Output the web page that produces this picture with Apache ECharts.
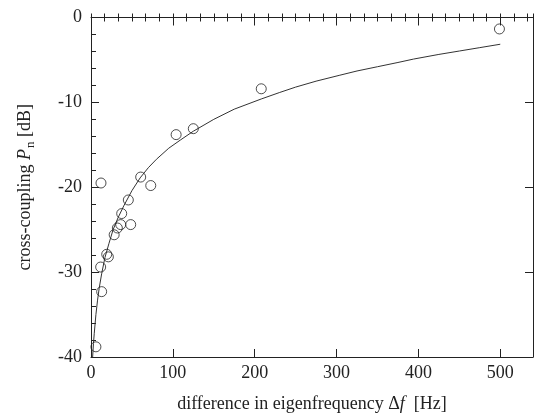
<!DOCTYPE html>
<html>
<head>
<meta charset="utf-8">
<script src="https://cdn.jsdelivr.net/npm/echarts@6/dist/echarts.min.js"></script>
<style>html,body{margin:0;padding:0;background:#fff}#c{width:536px;height:419px}</style>
</head>
<body>
<div id="c"></div>
<script>
// measured points: frequency difference [Hz] and cross-coupling [dB]
var measX = [6, 11.8, 12.2, 13, 19.2, 21.2, 28.3, 32.2, 36.3, 37.5, 45.6, 48.5, 60.7, 73, 104, 125, 208, 499];
var measY = [-38.8, -29.4, -19.5, -32.3, -27.9, -28.2, -25.6, -24.8, -24.4, -23.1, -21.5, -24.4, -18.8, -19.8, -13.8, -13.1, -8.4, -1.35];
// fitted curve
var curveX = [2, 3, 4, 5, 6, 8, 10, 13, 17, 22, 27, 33, 40, 50, 60, 70, 80, 95, 109, 125, 150, 175, 208, 230, 250, 275, 304, 325, 350, 375, 394, 425, 450, 475, 500];
var curveY = [-40, -38.4, -37.2, -36.1, -35.0, -33.3, -31.9, -30.2, -28.3, -26.6, -25.0, -23.6, -22.2, -20.4, -18.9, -17.7, -16.7, -15.4, -14.45, -13.4, -12.0, -10.8, -9.6, -8.85, -8.2, -7.5, -6.8, -6.3, -5.8, -5.3, -4.9, -4.35, -3.95, -3.55, -3.15];
var xTicks = [0, 100, 200, 300, 400, 500];
var yTicks = [-40, -30, -20, -10, 0];

var FONT = 'Liberation Serif';
var FS = 18;
var col = '#222';
var scatter = measX.map(function (x, i) { return [x, measY[i]]; });
var curve = curveX.map(function (x, i) { return [x, curveY[i]]; });

var baseX = {
  type: 'value', min: 0, max: 540, interval: 100,
  axisLine: { show: true, onZero: false, lineStyle: { color: col, width: 1 } },
  axisTick: { show: true, inside: true, length: 8, lineStyle: { color: col } },
  splitLine: { show: false }
};
var xAxes = [
  Object.assign({}, baseX, {
    position: 'bottom',
    name: 'difference in eigenfrequency Δ{i|f}  [Hz]',
    nameLocation: 'middle', nameGap: 38,
    nameTextStyle: { fontFamily: FONT, fontSize: FS, color: col, rich: { i: { fontFamily: FONT, fontStyle: 'italic', fontSize: FS, color: col } } },
    axisLabel: { fontFamily: FONT, fontSize: FS, color: col, margin: 7, showMaxLabel: false,
      formatter: function (v) { return xTicks.indexOf(v) >= 0 ? String(v) : ''; } }
  }),
  Object.assign({}, baseX, { position: 'bottom', interval: 100 / 6, axisLine: { show: false },
    axisTick: { show: true, inside: true, length: 4, lineStyle: { color: col } }, axisLabel: { show: false } }),
  Object.assign({}, baseX, { position: 'top', axisLabel: { show: false } }),
  Object.assign({}, baseX, { position: 'top', interval: 100 / 6, axisLine: { show: false },
    axisTick: { show: true, inside: true, length: 4, lineStyle: { color: col } }, axisLabel: { show: false } })
];
var yAxes = [
  {
    type: 'value', min: -40, max: 0, interval: 10, position: 'left',
    name: 'cross-coupling {i|P}{sub|n} [dB]',
    nameLocation: 'middle', nameGap: 54, nameRotate: 90,
    nameTextStyle: { fontFamily: FONT, fontSize: FS, color: col,
      rich: { i: { fontFamily: FONT, fontStyle: 'italic', fontSize: FS, color: col },
              sub: { fontFamily: FONT, fontSize: 13, color: col, padding: [11, 0, 0, 1] } } },
    axisLine: { show: true, onZero: false, lineStyle: { color: col } },
    axisTick: { show: true, inside: true, length: 8, lineStyle: { color: col } },
    minorTick: { show: true, splitNumber: 5, length: 5, lineStyle: { color: col } },
    axisLabel: { fontFamily: FONT, fontSize: FS, color: col, margin: 9,
      formatter: function (v) { return yTicks.indexOf(v) >= 0 ? String(v) : ''; } },
    splitLine: { show: false }
  },
  {
    type: 'value', min: -40, max: 0, interval: 10, position: 'right',
    axisLine: { show: true, onZero: false, lineStyle: { color: col } },
    axisTick: { show: true, inside: true, length: 8, lineStyle: { color: col } },
    axisLabel: { show: false }, splitLine: { show: false }
  }
];

var chart = echarts.init(document.getElementById('c'), null, { renderer: 'canvas' });
chart.setOption({
  animation: false,
  backgroundColor: '#fff',
  grid: { left: 91, right: 3, top: 17.5, bottom: 62, containLabel: false },
  xAxis: xAxes,
  yAxis: yAxes,
  series: [
    { type: 'line', data: curve, xAxisIndex: 0, yAxisIndex: 0, showSymbol: false, smooth: false,
      lineStyle: { color: '#333', width: 1 }, z: 2 },
    { type: 'scatter', data: scatter, xAxisIndex: 0, yAxisIndex: 0, symbol: 'circle', symbolSize: 10,
      itemStyle: { color: 'rgba(255,255,255,0)', borderColor: col, borderWidth: 1 }, z: 3 }
  ]
});
</script>
</body>
</html>
